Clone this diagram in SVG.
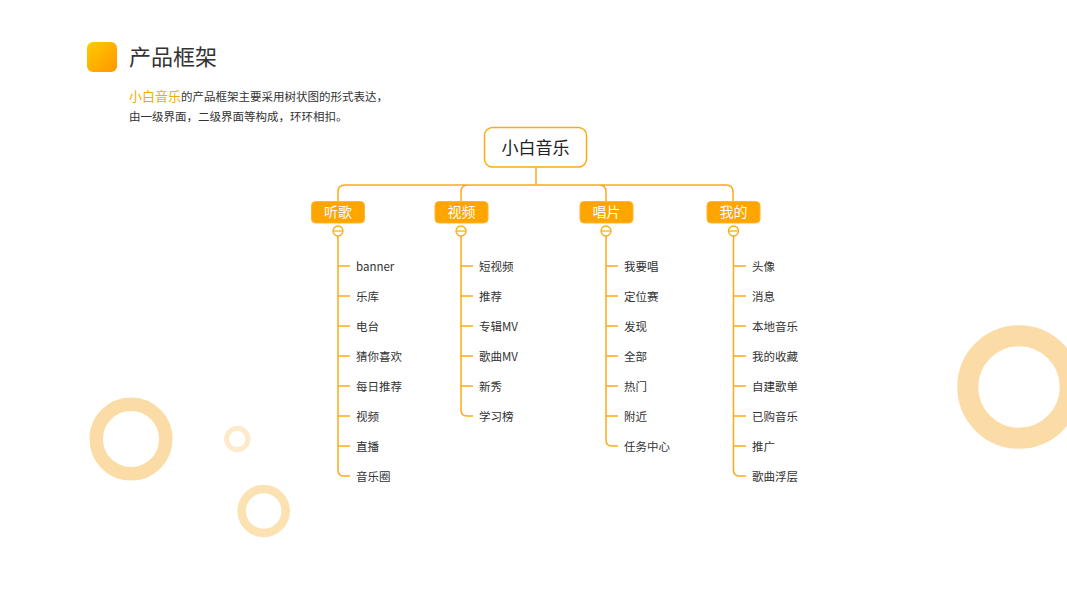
<svg xmlns="http://www.w3.org/2000/svg" width="1067" height="600" viewBox="0 0 1067 600">
<defs>
<linearGradient id="ig" x1="0" y1="0" x2="1" y2="1">
<stop offset="0" stop-color="#FFCC00"/>
<stop offset="1" stop-color="#FF9500"/>
</linearGradient>
<style>
.ring{fill:none;stroke:#FBDCA6}
.cn{fill:none;stroke:#FFA915;stroke-width:1.5}
.cjk{font-family:"Noto Sans CJK SC","Noto Sans",sans-serif}
.it{font-family:"Noto Sans CJK SC","Noto Sans",sans-serif;font-size:11.5px;fill:#333}
.cb{fill:#FFA500;stroke:#FFB733;stroke-width:1}
.ct{font-family:"Noto Sans CJK SC",sans-serif;font-size:14px;fill:#fff;text-anchor:middle}
.mc{fill:#fff;stroke:#FFA915;stroke-width:1.3}
</style>
</defs>
<rect width="1067" height="600" fill="#fff"/>
<g id="decor">
<circle class="ring" cx="131" cy="439" r="34.8" stroke-width="13.5"/>
<circle class="ring" cx="237.3" cy="439" r="10.7" stroke-width="5" style="stroke:#FDEACB"/>
<circle class="ring" cx="263.7" cy="511" r="22" stroke-width="8.5" style="stroke:#FCE1B2"/>
<circle class="ring" cx="1019" cy="387" r="51.2" stroke-width="21"/>
</g>
<g id="header">
<rect x="87" y="42" width="30" height="30" rx="6" fill="url(#ig)"/>
<text x="129" y="65" class="cjk" font-size="22" fill="#333">产品框架</text>
<text x="129" y="101" class="cjk" font-size="11.5" fill="#333"><tspan fill="#F5AB00" font-size="13">小白音乐</tspan>的产品框架主要采用树状图的形式表达，</text>
<text x="129" y="121" class="cjk" font-size="11.5" fill="#333">由一级界面，二级界面等构成，环环相扣。</text>
</g>
<g id="connectors">
<path class="cn" d="M536,167 V185 M338,201 V192 Q338,185 345,185 H726 Q733,185 733,192 V201 M461,201 V192 Q461,185 468,185 M606,201 V192 Q606,185 599,185"/>
<path class="cn" d="M338,236 V470 Q338,476 344,476 H350 M338,266 H350 M338,296 H350 M338,326 H350 M338,356 H350 M338,386 H350 M338,416 H350 M338,446 H350"/>
<path class="cn" d="M461,236 V410 Q461,416 467,416 H473 M461,266 H473 M461,296 H473 M461,326 H473 M461,356 H473 M461,386 H473"/>
<path class="cn" d="M606,236 V440 Q606,446 612,446 H618 M606,266 H618 M606,296 H618 M606,326 H618 M606,356 H618 M606,386 H618 M606,416 H618"/>
<path class="cn" d="M733.5,236 V470 Q733.5,476 739.5,476 H746 M733.5,266 H746 M733.5,296 H746 M733.5,326 H746 M733.5,356 H746 M733.5,386 H746 M733.5,416 H746 M733.5,446 H746"/>
</g>
<g id="root">
<rect x="484.5" y="127.5" width="102" height="39.5" rx="8" fill="#fff" stroke="#FFAA10" stroke-width="1.5"/>
<text x="535.5" y="153.5" class="cjk" font-size="17" fill="#222" text-anchor="middle">小白音乐</text>
</g>
<g id="n-tingge">
<rect class="cb" x="311.5" y="201.5" width="53" height="21.5" rx="4"/>
<text class="ct" x="338" y="217">听歌</text>
<circle class="mc" cx="338" cy="231" r="5"/><path d="M333,231 H343" stroke="#FFA915" stroke-width="1.2"/>
<text class="it" x="356" y="271">banner</text>
<text class="it" x="356" y="301">乐库</text>
<text class="it" x="356" y="331">电台</text>
<text class="it" x="356" y="361">猜你喜欢</text>
<text class="it" x="356" y="391">每日推荐</text>
<text class="it" x="356" y="421">视频</text>
<text class="it" x="356" y="451">直播</text>
<text class="it" x="356" y="481">音乐圈</text>
</g>
<g id="n-shipin">
<rect class="cb" x="435" y="201.5" width="53" height="21.5" rx="4"/>
<text class="ct" x="461.5" y="217">视频</text>
<circle class="mc" cx="461" cy="231" r="5"/><path d="M456,231 H466" stroke="#FFA915" stroke-width="1.2"/>
<text class="it" x="479" y="271">短视频</text>
<text class="it" x="479" y="301">推荐</text>
<text class="it" x="479" y="331">专辑MV</text>
<text class="it" x="479" y="361">歌曲MV</text>
<text class="it" x="479" y="391">新秀</text>
<text class="it" x="479" y="421">学习榜</text>
</g>
<g id="n-changpian">
<rect class="cb" x="580" y="201.5" width="53" height="21.5" rx="4"/>
<text class="ct" x="606.5" y="217">唱片</text>
<circle class="mc" cx="606" cy="231" r="5"/><path d="M601,231 H611" stroke="#FFA915" stroke-width="1.2"/>
<text class="it" x="624" y="271">我要唱</text>
<text class="it" x="624" y="301">定位赛</text>
<text class="it" x="624" y="331">发现</text>
<text class="it" x="624" y="361">全部</text>
<text class="it" x="624" y="391">热门</text>
<text class="it" x="624" y="421">附近</text>
<text class="it" x="624" y="451">任务中心</text>
</g>
<g id="n-wode">
<rect class="cb" x="707" y="201.5" width="53" height="21.5" rx="4"/>
<text class="ct" x="733.5" y="217">我的</text>
<circle class="mc" cx="733.5" cy="231" r="5"/><path d="M728.5,231 H738.5" stroke="#FFA915" stroke-width="1.2"/>
<text class="it" x="752" y="271">头像</text>
<text class="it" x="752" y="301">消息</text>
<text class="it" x="752" y="331">本地音乐</text>
<text class="it" x="752" y="361">我的收藏</text>
<text class="it" x="752" y="391">自建歌单</text>
<text class="it" x="752" y="421">已购音乐</text>
<text class="it" x="752" y="451">推广</text>
<text class="it" x="752" y="481">歌曲浮层</text>
</g>
</svg>
